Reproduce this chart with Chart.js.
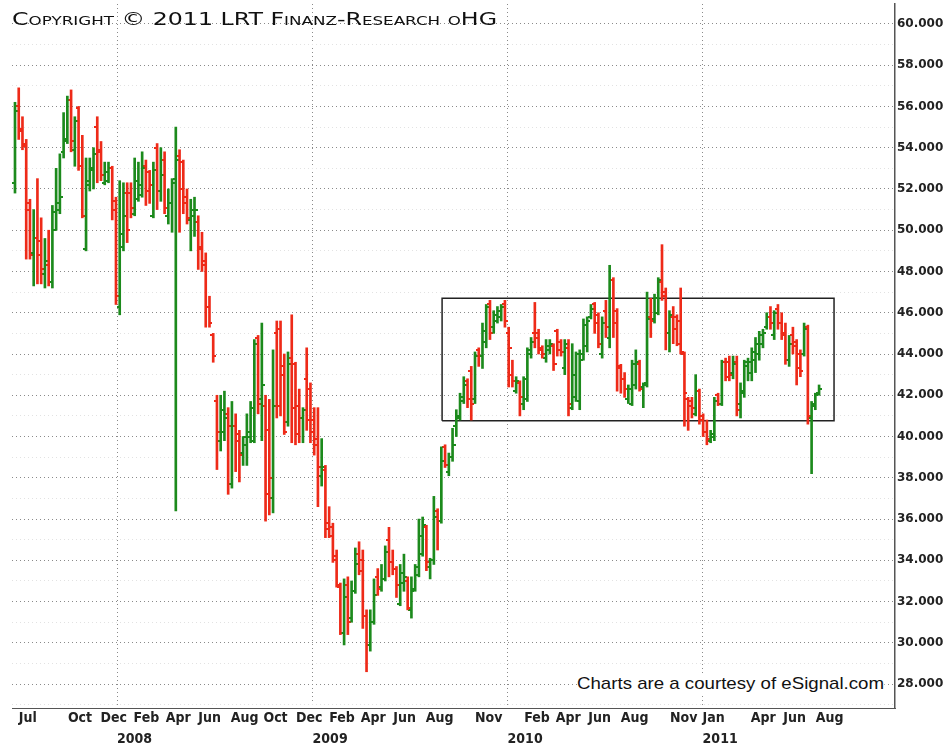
<!DOCTYPE html>
<html>
<head>
<meta charset="utf-8">
<title>LRT Finanz-Research</title>
<script src="https://cdn.jsdelivr.net/npm/chart.js@4.4.0/dist/chart.umd.min.js"></script>
<style>
  body { margin: 0; background: #fff; }
  #wrap { position: relative; width: 944px; height: 749px; }
  #copy {
    position: absolute; left: 12px; top: 9px;
    font: 17px "DejaVu Sans", sans-serif; font-variant: small-caps;
    color: #111; white-space: nowrap; transform-origin: left top;
  }
  #credit {
    position: absolute; top: 674px; left: 577px;
    font: 17px "Liberation Sans", Arial, sans-serif; color: #111;
    background: #fff; white-space: nowrap; transform-origin: left top;
  }
</style>
</head>
<body>
<div id="wrap">
  <canvas id="chart" width="944" height="749"></canvas>
  <div id="copy">Copyright © 2011 LRT Finanz-Research oHG</div>
  <div id="credit">Charts are a courtesy of eSignal.com</div>
</div>
<script>
// weekly bars, week 0 = last week of June 2007
var opens = [
  52.3, 56.0, 54.9, 54.2, 51.3, 48.9, 49.6, 49.5, 47.9, 48.3, 47.5, 50.0,
  51.0, 53.8, 54.4, 56.3, 53.9, 55.9, 53.1, 49.1, 52.2, 52.9, 55.0, 53.8,
  52.3, 52.4, 53.0, 51.4, 46.3, 49.2, 51.8, 51.8, 50.8, 51.5, 51.7, 53.1,
  52.8, 50.7, 54.0, 51.9, 53.4, 50.7, 51.3, 52.5, 53.6, 53.3, 51.6, 50.5,
  50.7, 50.4, 49.2, 48.3, 46.3, 44.9, 41.7, 39.8, 40.2, 41.1, 37.7, 40.5,
  40.1, 39.2, 39.6, 40.0, 39.8, 44.8, 41.8, 41.5, 40.3, 37.0, 45.0, 45.2,
  43.0, 40.7, 43.8, 43.5, 41.5, 40.9, 42.8, 42.3, 40.8, 39.6, 38.1, 38.4,
  35.8, 35.6, 34.2, 32.7, 30.5, 32.8, 31.2, 32.5, 34.3, 34.0, 31.3, 29.9,
  31.0, 33.2, 32.7, 33.1, 35.0, 33.9, 33.6, 31.9, 32.9, 33.0, 31.6, 32.6,
  33.3, 34.3, 35.6, 33.7, 34.0, 36.4, 35.9, 39.5, 38.3, 39.0, 40.5, 40.9,
  41.7, 42.7, 43.2, 41.8, 44.2, 43.9, 44.6, 46.4, 45.3, 45.6, 45.8, 46.4,
  45.0, 43.0, 42.2, 42.6, 41.6, 41.8, 44.0, 45.0, 45.0, 44.3, 43.8, 44.2,
  44.4, 45.1, 44.6, 43.3, 44.3, 41.4, 41.9, 41.7, 44.0, 44.4, 45.8, 46.4,
  45.9, 44.0, 46.1, 44.8, 47.6, 46.1, 43.4, 42.8, 41.8, 41.6, 42.5, 43.5,
  42.4, 42.6, 45.8, 45.7, 46.0, 47.5, 47.0, 45.0, 45.8, 45.8, 45.6, 44.0,
  41.8, 41.7, 41.1, 42.2, 41.0, 40.2, 39.8, 40.0, 42.0, 41.6, 43.6, 43.6,
  43.1, 43.6, 41.6, 42.2, 43.4, 43.1, 43.7, 44.0, 44.5, 45.3, 45.8, 44.9,
  46.2, 45.5, 45.0, 43.7, 44.9, 44.6, 44.0, 44.0, 45.3, 40.9, 41.6, 42.1
];
var highs = [
  56.2, 56.9, 55.5, 54.4, 51.5, 51.0, 52.5, 50.6, 49.6, 50.0, 51.2, 53.0,
  53.7, 55.7, 56.5, 56.8, 55.5, 56.0, 54.6, 53.5, 53.5, 54.0, 55.5, 54.3,
  53.3, 53.3, 53.1, 51.6, 52.4, 52.3, 52.3, 52.3, 53.5, 53.3, 53.8, 53.4,
  52.9, 53.3, 54.2, 54.0, 53.8, 52.0, 52.5, 55.0, 53.9, 53.4, 52.0, 51.5,
  51.6, 50.7, 49.9, 48.9, 46.8, 45.0, 42.0, 42.0, 42.2, 41.4, 41.7, 41.1,
  40.3, 40.0, 41.1, 41.7, 44.7, 44.9, 45.5, 42.0, 41.8, 44.2, 45.6, 45.6,
  44.0, 44.1, 45.9, 43.6, 42.3, 41.4, 44.3, 42.6, 41.4, 41.4, 39.9, 38.6,
  36.6, 35.8, 34.5, 32.9, 33.1, 33.2, 33.0, 34.6, 34.9, 34.5, 31.6, 31.6,
  33.1, 33.6, 33.8, 34.7, 35.6, 34.5, 33.7, 33.8, 34.3, 33.2, 33.2, 33.8,
  36.0, 36.1, 35.7, 34.1, 37.1, 36.5, 39.5, 39.6, 39.2, 40.4, 41.3, 42.1,
  42.9, 42.8, 43.4, 44.1, 44.3, 45.5, 46.4, 46.6, 46.1, 46.3, 46.4, 46.6,
  45.3, 43.7, 42.9, 42.7, 42.9, 44.3, 44.8, 46.5, 45.2, 44.4, 44.7, 44.7,
  44.5, 45.2, 44.7, 44.7, 44.7, 44.5, 44.1, 44.2, 45.7, 45.8, 46.4, 46.5,
  46.0, 45.8, 46.6, 48.3, 47.7, 46.2, 43.5, 43.1, 42.5, 43.7, 44.2, 43.7,
  42.6, 47.0, 46.7, 46.9, 47.7, 49.3, 47.2, 46.1, 46.3, 45.9, 47.2, 44.1,
  41.9, 41.9, 43.0, 42.3, 41.1, 40.8, 40.3, 41.9, 42.1, 43.7, 43.8, 43.9,
  43.9, 43.9, 42.6, 43.7, 43.8, 44.3, 44.8, 45.1, 45.2, 46.0, 46.3, 46.1,
  46.4, 46.0, 45.5, 44.9, 45.3, 44.7, 44.2, 45.5, 45.4, 41.7, 42.1, 42.5
];
var lows = [
  51.8, 54.4, 53.9, 48.6, 48.6, 47.3, 47.4, 47.4, 47.2, 47.3, 47.2, 50.0,
  50.8, 53.5, 54.2, 53.8, 53.1, 52.9, 50.6, 49.0, 51.9, 52.0, 52.3, 52.4,
  52.2, 52.3, 50.5, 46.4, 45.9, 49.0, 49.4, 50.6, 50.7, 51.4, 51.6, 51.2,
  51.3, 50.6, 51.0, 51.4, 50.8, 50.3, 49.9, 36.4, 49.9, 50.8, 50.3, 49.0,
  49.7, 48.1, 48.0, 45.3, 45.3, 43.6, 38.4, 39.3, 39.8, 37.2, 37.5, 38.3,
  37.8, 38.6, 38.6, 39.7, 39.7, 41.1, 39.8, 35.9, 36.2, 36.3, 40.9, 41.0,
  40.1, 40.5, 39.7, 39.6, 39.7, 39.7, 40.3, 39.7, 39.1, 36.6, 37.6, 35.1,
  35.1, 33.9, 32.7, 30.4, 29.9, 30.4, 31.0, 32.4, 33.3, 30.7, 28.6, 29.6,
  30.9, 32.3, 32.5, 33.0, 33.2, 33.3, 32.2, 31.8, 32.5, 31.6, 31.2, 32.5,
  33.2, 34.2, 33.5, 33.1, 33.8, 34.5, 35.8, 38.5, 38.1, 38.8, 40.0, 40.8,
  41.6, 41.4, 40.8, 41.6, 43.4, 43.3, 44.3, 44.7, 45.0, 45.5, 45.6, 45.3,
  42.4, 42.4, 42.1, 41.0, 41.3, 41.7, 43.8, 44.3, 44.0, 43.8, 43.6, 44.0,
  43.2, 43.9, 43.9, 43.0, 41.0, 41.3, 41.7, 41.3, 43.7, 44.1, 45.7, 45.0,
  44.3, 43.8, 44.8, 44.3, 44.8, 42.2, 42.1, 41.9, 41.6, 41.5, 42.3, 42.2,
  41.4, 42.4, 44.8, 45.5, 45.9, 46.6, 44.2, 44.1, 44.5, 44.4, 44.0, 40.5,
  40.3, 40.9, 41.0, 40.6, 40.0, 39.6, 39.7, 39.8, 41.5, 41.5, 42.7, 42.7,
  42.8, 41.0, 40.9, 41.9, 42.7, 42.7, 43.1, 43.7, 44.3, 45.2, 45.2, 44.7,
  45.2, 44.7, 43.5, 43.4, 44.0, 42.5, 42.9, 43.9, 40.6, 38.2, 41.3, 42.0
];
var closes = [
  55.8, 54.8, 54.1, 51.0, 48.8, 49.6, 48.8, 48.1, 48.5, 47.5, 50.9, 51.3,
  51.6, 54.3, 56.3, 54.3, 55.3, 53.1, 50.7, 52.4, 53.0, 53.7, 53.9, 52.7,
  52.8, 53.0, 51.0, 46.8, 49.8, 50.7, 50.0, 51.1, 52.4, 52.2, 53.0, 51.9,
  52.2, 52.9, 51.9, 52.7, 51.1, 51.3, 52.3, 53.4, 52.0, 51.3, 50.6, 51.0,
  51.0, 49.1, 48.5, 46.3, 45.5, 43.9, 40.2, 41.3, 40.9, 40.5, 40.5, 39.8,
  39.1, 40.0, 40.2, 41.4, 44.5, 41.6, 42.5, 37.2, 38.0, 41.5, 41.5, 43.4,
  40.2, 43.5, 41.4, 40.1, 40.9, 41.3, 40.8, 40.2, 39.9, 38.5, 38.5, 35.5,
  35.2, 34.0, 32.8, 30.5, 32.2, 31.0, 32.5, 33.8, 33.5, 31.3, 29.9, 31.0,
  32.3, 32.6, 33.1, 34.4, 33.9, 33.6, 32.8, 33.4, 33.2, 31.7, 32.5, 33.7,
  35.2, 35.7, 33.9, 34.0, 36.1, 35.9, 38.8, 38.6, 39.0, 39.6, 41.0, 41.9,
  42.5, 41.8, 41.6, 43.9, 43.9, 45.1, 46.3, 45.0, 45.9, 46.1, 46.3, 45.6,
  44.3, 42.7, 42.7, 41.9, 42.8, 44.2, 44.6, 44.8, 44.2, 44.0, 44.4, 44.5,
  43.5, 44.2, 44.1, 44.5, 41.6, 43.0, 44.0, 43.7, 45.4, 45.6, 46.2, 45.5,
  44.5, 45.5, 45.3, 47.6, 45.5, 43.3, 42.8, 42.3, 42.3, 43.5, 43.6, 42.3,
  42.5, 45.7, 45.6, 46.7, 47.6, 46.8, 45.0, 45.9, 45.2, 44.5, 44.1, 42.1,
  41.5, 41.4, 42.2, 40.8, 40.2, 39.9, 40.1, 41.7, 41.6, 43.6, 42.9, 43.0,
  43.5, 41.3, 42.1, 43.6, 43.6, 44.1, 44.5, 44.9, 45.0, 45.8, 45.5, 46.0,
  45.5, 44.9, 43.7, 44.5, 44.4, 43.3, 43.2, 45.2, 41.0, 41.5, 42.0, 42.3
];

// x axis: month marks (first day of month), label text and year row
var xTickMonths = ['2007-07', '2007-10', '2007-12', '2008-01', '2008-02', '2008-04', '2008-06',
  '2008-08', '2008-10', '2008-12', '2009-01', '2009-02', '2009-04', '2009-06', '2009-08',
  '2009-11', '2010-01', '2010-02', '2010-04', '2010-06', '2010-08', '2010-11', '2011-01',
  '2011-04', '2011-06', '2011-08'];
var xTickNames = ['Jul', 'Oct', 'Dec', '', 'Feb', 'Apr', 'Jun', 'Aug', 'Oct', 'Dec', '', 'Feb',
  'Apr', 'Jun', 'Aug', 'Nov', '', 'Feb', 'Apr', 'Jun', 'Aug', 'Nov', 'Jan', 'Apr', 'Jun', 'Aug'];
var xTickYears = ['', '', '', '2008', '', '', '', '', '', '', '2009', '', '', '', '', '', '2010',
  '', '', '', '', '', '2011', '', '', ''];

// labelled price levels, plus the faint in-between rows
var yTicks = [28, 30, 32, 34, 36, 38, 40, 42, 44, 46, 48, 50, 52, 54, 56, 58, 60];
var yMinorTicks = [27, 29, 31, 33, 35, 37, 39, 41, 43, 45, 47, 49, 51, 53, 55, 57, 59];

// sideways range drawn as a box (week index, price)
var boxWeeks = [114.2, 219];
var boxPrices = [40.77, 46.7];

var RED = '#ee2a18';
var GREEN = '#1c8a1c';

var weekBase = Date.UTC(2007, 5, 24);
function weekOf(ym) {
  var p = ym.split('-');
  return (Date.UTC(+p[0], +p[1] - 1, 1) - weekBase) / 6048e5;
}

function tickImage(color, side) {
  var c = document.createElement('canvas');
  c.width = 6;
  c.height = 2;
  var g = c.getContext('2d');
  g.fillStyle = color;
  g.fillRect(side === 'open' ? 0 : 3, 0, 3, 2);
  return c;
}
var openRed = tickImage(RED, 'open'), openGreen = tickImage(GREEN, 'open');
var closeRed = tickImage(RED, 'close'), closeGreen = tickImage(GREEN, 'close');

function isUp(i) { return closes[i] >= opens[i]; }

var labelFont = { family: '"Liberation Sans Narrow", "DejaVu Sans Condensed", sans-serif', size: 14, weight: 'bold', lineHeight: 1.5 };

new Chart(document.getElementById('chart'), {
  type: 'bar',
  data: {
    datasets: [
      {
        data: highs.map(function (h, i) { return { x: i, y: [lows[i], h] }; }),
        backgroundColor: highs.map(function (h, i) { return isUp(i) ? GREEN : RED; }),
        barThickness: 2,
        borderWidth: 0
      },
      {
        type: 'scatter',
        data: opens.map(function (o, i) { return { x: i, y: o }; }),
        pointStyle: function (ctx) { return isUp(ctx.dataIndex) ? openGreen : openRed; },
        pointRadius: 3,
        pointHoverRadius: 3
      },
      {
        type: 'scatter',
        data: closes.map(function (c, i) { return { x: i, y: c }; }),
        pointStyle: function (ctx) { return isUp(ctx.dataIndex) ? closeGreen : closeRed; },
        pointRadius: 3,
        pointHoverRadius: 3
      },
      {
        type: 'scatter',
        showLine: true,
        data: [
          { x: boxWeeks[0], y: boxPrices[0] }, { x: boxWeeks[1], y: boxPrices[0] },
          { x: boxWeeks[1], y: boxPrices[1] }, { x: boxWeeks[0], y: boxPrices[1] },
          { x: boxWeeks[0], y: boxPrices[0] }
        ],
        borderColor: '#222',
        borderWidth: 1.5,
        pointRadius: 0,
        pointHoverRadius: 0
      }
    ]
  },
  options: {
    responsive: false,
    animation: false,
    devicePixelRatio: 1,
    events: [],
    layout: { padding: { left: 12, top: 0, right: 0, bottom: 0 } },
    plugins: { legend: { display: false }, tooltip: { enabled: false } },
    scales: {
      x: {
        type: 'linear',
        offset: false,
        min: -0.8,
        max: 235.3,
        afterBuildTicks: function (scale) {
          scale.ticks = xTickMonths.map(function (m) { return { value: weekOf(m) }; });
        },
        afterFit: function (scale) {
          scale.height = 41;
          scale.paddingLeft = 0;
          scale.paddingRight = 0;
        },
        ticks: {
          autoSkip: false,
          maxRotation: 0,
          align: 'start',
          padding: 0,
          color: '#222',
          font: labelFont,
          callback: function (v, i) { return [xTickNames[i], xTickYears[i]]; }
        },
        grid: {
          drawTicks: false,
          offset: false,
          color: function (ctx) { return xTickYears[ctx.index] ? '#8a8a8a' : 'rgba(0,0,0,0)'; }
        },
        border: { display: true, color: '#555', width: 1, dash: [1, 3] }
      },
      y: {
        position: 'right',
        min: 26.843,
        max: 60.964,
        afterBuildTicks: function (scale) {
          scale.ticks = yTicks.concat(yMinorTicks).map(function (v) { return { value: v }; });
        },
        afterFit: function (scale) {
          scale.width = 49;
          scale.paddingTop = 0;
          scale.paddingBottom = 0;
        },
        ticks: {
          autoSkip: false,
          padding: 2,
          color: '#222',
          font: { family: '"DejaVu Sans", sans-serif', size: 12, weight: 'bold' },
          callback: function (v) { return v % 2 === 0 ? v.toFixed(3) : ''; }
        },
        grid: {
          drawTicks: false,
          color: function (ctx) {
            return ctx.tick && ctx.tick.value % 2 !== 0 ? '#e2e2e2' : '#8a8a8a';
          }
        },
        border: { display: true, color: '#555', width: 1.5, dash: [1, 3] }
      }
    }
  }
});

// stretch the two notes to the width they take in the original
function fitWidth(id, w) {
  var el = document.getElementById(id);
  el.style.transform = 'scaleX(' + (w / el.getBoundingClientRect().width) + ')';
}
fitWidth('copy', 485);
fitWidth('credit', 307);
</script>
</body>
</html>
